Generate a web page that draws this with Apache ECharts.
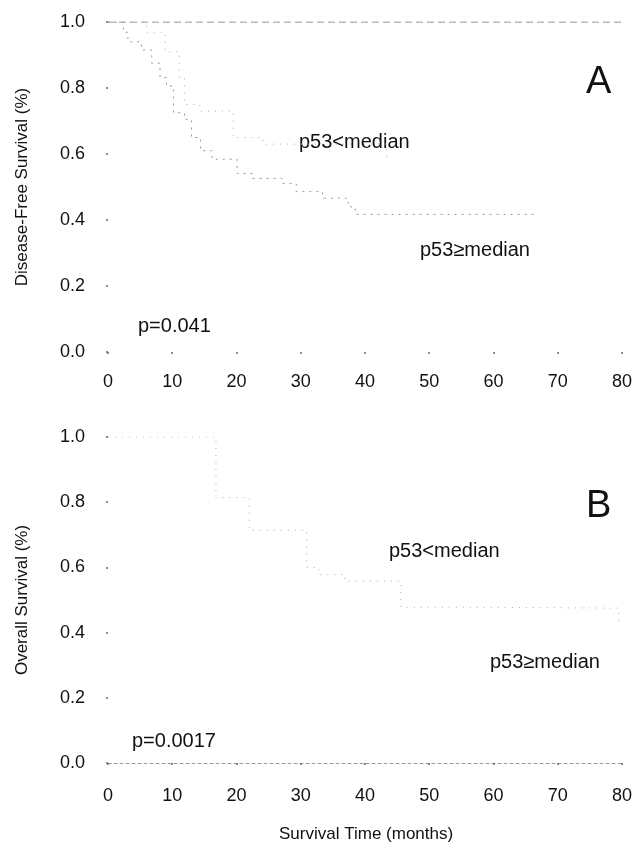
<!DOCTYPE html>
<html><head><meta charset="utf-8">
<script src="https://cdn.jsdelivr.net/npm/echarts@6/dist/echarts.min.js"></script>
<style>html,body{margin:0;padding:0;background:#fff}#c{width:635px;height:852px}</style>
</head><body><div id="c"></div>
<script>
// Axis settings (months, survival fraction)
const xMin = 0, xMax = 80, xStep = 10;
const yMin = 0, yMax = 1, yStep = 0.2;

// Panel A: Disease-free survival
const dfsLowT  = [0, 6.0, 8.9, 11.1, 11.9, 14.3, 19.5, 24.1, 43.4];
const dfsLowS  = [1.0, 0.969, 0.91, 0.83, 0.75, 0.73, 0.65, 0.63, 0.59];
const dfsHighT = [0, 2.4, 3.1, 5.2, 6.8, 8.1, 9.1, 10.2, 11.9, 13.0, 14.4, 16.2, 20.1, 22.5, 27.1, 29.3, 33.4, 37.4, 38.5, 66.7];
const dfsHighS = [1.0, 0.969, 0.94, 0.915, 0.875, 0.832, 0.806, 0.725, 0.705, 0.65, 0.61, 0.584, 0.541, 0.526, 0.511, 0.486, 0.466, 0.44, 0.417, 0.417];
const dfsTopT  = [0, 80];
const dfsTopS  = [1.0, 1.0];

// Panel B: Overall survival
const osLowT  = [0, 3.8, 16.8, 22.0, 30.9, 32.8, 36.9, 45.6, 55.0, 79.5];
const osLowS  = [1.0, 1.0, 0.814, 0.714, 0.60, 0.578, 0.558, 0.478, 0.475, 0.427];

const pairs = (t, s) => t.map((v, i) => [v, s[i]]);

const FONT = 'Liberation Sans, Arial, Helvetica, sans-serif';
const FS = 18;   // tick labels / axis names
const FA = 20;   // annotations

function xAxisCfg(gi, showLine, margin) {
  return {
    gridIndex: gi, type: 'value', min: xMin, max: xMax, interval: xStep,
    axisLine: { show: showLine, lineStyle: { color: '#999', width: 1, type: [3, 3] } },
    axisTick: { show: true, length: 2, lineStyle: { color: '#666', width: 1.5 } },
    axisLabel: { color: '#111', fontSize: FS, fontFamily: FONT, margin: margin },
    splitLine: { show: false }
  };
}
function yAxisCfg(gi, name) {
  return {
    gridIndex: gi, type: 'value', min: yMin, max: yMax, interval: yStep,
    name: name, nameLocation: 'middle', nameGap: 77,
    nameTextStyle: { color: '#111', fontSize: 17, fontFamily: FONT },
    axisLine: { show: false },
    axisTick: { show: true, length: 2, lineStyle: { color: '#666', width: 1.5 } },
    axisLabel: { color: '#111', fontSize: FS, fontFamily: FONT, margin: 23, formatter: v => v.toFixed(1) },
    splitLine: { show: false }
  };
}
function curve(xi, data, color, dash) {
  return {
    type: 'line', xAxisIndex: xi, yAxisIndex: xi, step: 'end', data: data,
    showSymbol: false, silent: true,
    lineStyle: { color: color, width: 1, type: dash }
  };
}
function txt(left, top, text, size) {
  return { type: 'text', left: left, top: top, style: { text: text, fontSize: size, fontFamily: FONT, fill: '#111' } };
}

const chart = echarts.init(document.getElementById('c'), null, { renderer: 'canvas' });
chart.setOption({
  backgroundColor: '#fff',
  animation: false,
  grid: [
    { left: 108, right: 10, top: 22, height: 330 },
    { left: 108, right: 10, top: 437, height: 326 }
  ],
  xAxis: [xAxisCfg(0, false, 21), xAxisCfg(1, true, 24)],
  yAxis: [yAxisCfg(0, 'Disease-Free Survival (%)'), yAxisCfg(1, 'Overall Survival (%)')],
  series: [
    curve(0, pairs(dfsTopT, dfsTopS), '#777', [7, 4]),
    curve(0, pairs(dfsLowT, dfsLowS), '#aaa', [1, 6]),
    curve(0, pairs(dfsHighT, dfsHighS), '#999', [2, 5]),
    curve(1, pairs(osLowT, osLowS), '#aaa', [1, 6])
  ],
  graphic: [
    txt(586, 64, 'A', 38),
    txt(299, 132, 'p53<median', FA),
    txt(420, 240, 'p53≥median', FA),
    txt(138, 316, 'p=0.041', FA),
    txt(586, 488, 'B', 38),
    txt(389, 541, 'p53<median', FA),
    txt(490, 652, 'p53≥median', FA),
    txt(132, 731, 'p=0.0017', FA),
    txt(279, 826, 'Survival Time (months)', 17)
  ]
});
</script>
</body></html>
